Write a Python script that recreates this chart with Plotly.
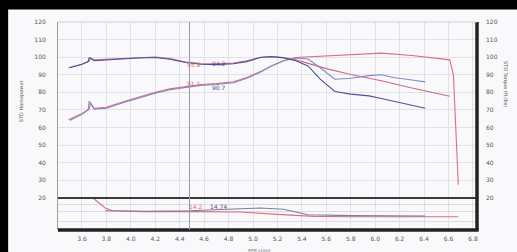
import plotly.graph_objects as go

# ---------------- data ----------------
rpm_ticks = [3.6, 3.8, 4.0, 4.2, 4.4, 4.6, 4.8, 5.0, 5.2, 5.4, 5.6, 5.8, 6.0, 6.2, 6.4, 6.6, 6.8]
rpm_labels = ["3.6", "3.8", "4.0", "4.2", "4.4", "4.6", "4.8", "5.0", "5.2", "5.4", "5.6", "5.8", "6.0", "6.2", "6.4", "6.6", "6.8"]
y_ticks = [20, 30, 40, 50, 60, 70, 80, 90, 100, 110, 120]

# Run 1 (red)
red_rpm = [3.49, 3.60, 3.66, 3.67, 3.70, 3.80, 3.93, 4.05, 4.20, 4.32, 4.45, 4.57, 4.70, 4.84, 4.95, 5.06, 5.15, 5.25, 5.35, 5.45, 5.60, 5.80, 6.05, 6.30, 6.50, 6.61, 6.64, 6.66, 6.68]
red_hp = [64.5, 68.0, 70.5, 74.0, 71.0, 71.5, 74.5, 77.0, 80.0, 82.0, 83.5, 84.5, 85.0, 86.0, 88.5, 91.8, 95.0, 98.0, 99.8, 100.2, 100.8, 101.6, 102.3, 101.0, 99.5, 98.5, 90.0, 60.0, 27.5]
red_tq = [94.0, 96.0, 97.8, 99.5, 98.5, 98.8, 99.5, 99.8, 100.1, 99.2, 97.3, 96.4, 96.2, 96.7, 98.0, 100.0, 100.4, 99.8, 98.5, 96.5, 93.5, 90.2, 86.6, 82.5, 79.5, 77.8]
red_tq_rpm = red_rpm[:26]

# Run 2 (blue)
blue_rpm = [3.50, 3.60, 3.65, 3.66, 3.70, 3.80, 3.93, 4.05, 4.20, 4.32, 4.45, 4.57, 4.70, 4.84, 4.95, 5.06, 5.15, 5.25, 5.35, 5.45, 5.55, 5.67, 5.80, 5.95, 6.05, 6.15, 6.30, 6.41]
blue_hp = [64.0, 67.5, 70.0, 75.0, 70.5, 71.0, 74.0, 76.5, 79.5, 81.5, 83.0, 84.0, 84.5, 85.5, 88.0, 91.5, 95.0, 98.0, 99.5, 99.0, 94.0, 87.5, 88.0, 89.5, 90.0, 88.5, 87.0, 86.0]
blue_tq = [94.0, 96.0, 97.5, 99.8, 98.0, 98.5, 99.3, 99.5, 99.8, 98.8, 97.0, 96.0, 95.8, 96.3, 97.5, 99.8, 100.3, 99.6, 98.0, 95.0, 87.5, 80.5, 79.0, 78.0, 76.5, 75.0, 72.8, 71.0]

# Lower panel (air/fuel ratio)
afr_red_rpm = [3.69, 3.75, 3.79, 3.85, 4.10, 4.48, 4.90, 5.20, 5.50, 5.80, 6.20, 6.60, 6.68]
afr_red = [18.0, 16.6, 15.5, 14.8, 14.6, 14.6, 14.5, 13.9, 13.4, 13.3, 13.3, 13.3, 13.3]
afr_blue_rpm = [3.79, 4.10, 4.48, 4.80, 5.06, 5.25, 5.45, 5.80, 6.10, 6.41]
afr_blue = [14.8, 14.7, 14.8, 15.2, 15.5, 15.2, 13.8, 13.6, 13.6, 13.5]

cursor_rpm = 4.48

RED = "#d9707c"
RED_T = "#c86a84"
BLUE_HP = "#8088c4"
BLUE_T = "#4c5296"

fig = go.Figure()
fig.add_trace(go.Scatter(x=red_rpm, y=red_hp, mode="lines", line=dict(color=RED, width=1.1), yaxis="y"))
fig.add_trace(go.Scatter(x=red_tq_rpm, y=red_tq, mode="lines", line=dict(color=RED_T, width=1.1), yaxis="y"))
fig.add_trace(go.Scatter(x=blue_rpm, y=blue_hp, mode="lines", line=dict(color=BLUE_HP, width=1.1), yaxis="y"))
fig.add_trace(go.Scatter(x=blue_rpm, y=blue_tq, mode="lines", line=dict(color=BLUE_T, width=1.1), yaxis="y"))
fig.add_trace(go.Scatter(x=afr_red_rpm, y=afr_red, mode="lines", line=dict(color=RED, width=1.1), yaxis="y3"))
fig.add_trace(go.Scatter(x=afr_blue_rpm, y=afr_blue, mode="lines", line=dict(color="#7a7f9c", width=1.1), yaxis="y3"))

# invisible trace to activate right axis
fig.add_trace(go.Scatter(x=[3.6], y=[20], mode="markers", marker=dict(opacity=0), yaxis="y2", hoverinfo="skip"))

tickfont = dict(family="DejaVu Sans", size=6, color="#555")

fig.update_layout(
    width=517, height=252,
    margin=dict(l=58, r=40, t=22, b=22),
    paper_bgcolor="#000000",
    plot_bgcolor="#ffffff",
    showlegend=False,
    hovermode=False,
    xaxis=dict(range=[3.404, 6.833], tickvals=rpm_ticks, ticktext=rpm_labels, tickfont=tickfont,
               showgrid=True, gridcolor="#e2e2e6", gridwidth=1, zeroline=False, ticks="",
               showline=False, anchor="y3", ticklabelstandoff=4, automargin=False),
    yaxis=dict(domain=[0.154, 1], range=[20, 120], tickvals=y_ticks, tickfont=tickfont,
               showgrid=True, gridcolor="#e2e2e6", zeroline=False, ticks="", showline=True,
               linecolor="#9a9a9a", linewidth=1, ticklabelstandoff=10, automargin=False),
    yaxis2=dict(overlaying="y", side="right", range=[20, 120], tickvals=y_ticks, tickfont=tickfont,
                showgrid=False, zeroline=False, ticks="", showline=False, ticklabelstandoff=8,
                automargin=False),
    yaxis3=dict(domain=[0, 0.154], range=[10, 18], tickvals=[12, 14.5, 16.25], showticklabels=False,
                showgrid=True, gridcolor="#dcdce0", zeroline=False, ticks="", showline=True,
                linecolor="#9a9a9a", linewidth=1, automargin=False),
)

shapes = []
# white panel behind the chart
shapes.append(dict(type="rect", xref="paper", yref="paper", x0=-0.119, x1=1.12, y0=-0.13, y1=1.06,
                   fillcolor="#f9f9fb", line=dict(width=0), layer="below"))
# thick separators / frame
shapes.append(dict(type="line", xref="paper", yref="paper", x0=0, x1=1, y0=0.154, y1=0.154,
                   line=dict(color="#3a3a3a", width=2)))
shapes.append(dict(type="line", xref="paper", yref="paper", x0=0, x1=1.004, y0=0, y1=0,
                   line=dict(color="#222222", width=3.5)))
shapes.append(dict(type="line", xref="paper", yref="paper", x0=1, x1=1, y0=0, y1=1,
                   line=dict(color="#222222", width=3.5)))
shapes.append(dict(type="line", xref="paper", yref="paper", x0=0, x1=1, y0=1, y1=1,
                   line=dict(color="#cfcfd4", width=1)))
# cursor line
shapes.append(dict(type="line", xref="x", yref="paper", x0=cursor_rpm, x1=cursor_rpm, y0=0, y1=1,
                   line=dict(color="#9a9aa6", width=1)))
fig.update_layout(shapes=shapes)

lab = dict(family="DejaVu Sans", size=6)
ann = [
    dict(x=4.52, y=95.8, text="95.9", font=dict(color=RED, **lab)),
    dict(x=4.72, y=96.2, text="94.2", font=dict(color=BLUE_T, **lab)),
    dict(x=4.52, y=85.3, text="91.1", font=dict(color=RED, **lab)),
    dict(x=4.72, y=82.8, text="90.7", font=dict(color=BLUE_T, **lab)),
]
annotations = []
for a in ann:
    annotations.append(dict(xref="x", yref="y", showarrow=False, xanchor="center", yanchor="middle", **a))
annotations.append(dict(xref="x", yref="y3", x=4.53, y=15.8, text="14.2", showarrow=False,
                        font=dict(color=RED, **lab)))
annotations.append(dict(xref="x", yref="y3", x=4.72, y=15.8, text="14.74", showarrow=False,
                        font=dict(color=BLUE_T, **lab)))
# axis titles
annotations.append(dict(xref="paper", yref="paper", x=-0.088, y=0.62, text="STD Horsepower", showarrow=False,
                        textangle=-90, xanchor="center", yanchor="middle",
                        font=dict(family="DejaVu Sans", size=5, color="#555")))
annotations.append(dict(xref="paper", yref="paper", x=1.068, y=0.7, text="STD Torque (ft-lbs)", showarrow=False,
                        textangle=90, xanchor="center", yanchor="middle",
                        font=dict(family="DejaVu Sans", size=5, color="#555")))
annotations.append(dict(xref="paper", yref="paper", x=0.48, y=-0.075, text="RPM x1000", showarrow=False,
                        xanchor="center", yanchor="top",
                        font=dict(family="DejaVu Sans", size=4, color="#777")))
fig.update_layout(annotations=annotations)

fig.write_html("out.html", config={"displayModeBar": False, "staticPlot": True},
               post_script="document.body.style.margin='0';document.body.style.background='#000';")
